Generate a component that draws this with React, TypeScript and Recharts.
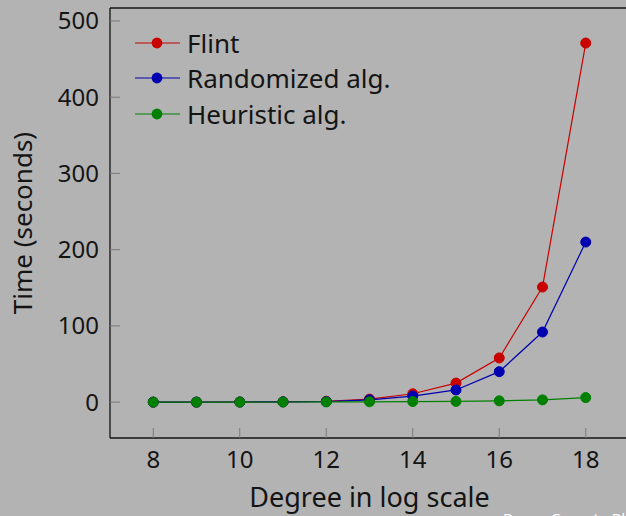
import { LineChart, Line, XAxis, YAxis, Legend } from "recharts";

const degrees = [8, 9, 10, 11, 12, 13, 14, 15, 16, 17, 18];
const flint = [0.05, 0.1, 0.2, 0.5, 1.2, 4, 11, 25, 58, 151, 471];
const randomized = [0.05, 0.1, 0.2, 0.4, 0.8, 3, 8, 16, 40, 92, 210];
const heuristic = [0.02, 0.05, 0.1, 0.2, 0.3, 0.5, 0.8, 1, 1.7, 3, 6];
const seriesNames = ["Flint", "Randomized alg.", "Heuristic alg."];

const xTicks = [8, 10, 12, 14, 16, 18];
const yTicks = [0, 100, 200, 300, 400, 500];

const data = degrees.map((d, i) => ({
  degree: d,
  flint: flint[i],
  randomized: randomized[i],
  heuristic: heuristic[i],
}));

const FONT = "'Noto Sans', sans-serif";
const INK = "#141414";
const TICK = "#7a7a7a";

function LegendBox({ payload }: any) {
  const items = [...(payload || [])].sort(
    (a: any, b: any) => seriesNames.indexOf(a.value) - seriesNames.indexOf(b.value)
  );
  return (
    <div>
      {items.map((p: any) => (
        <div key={p.value} style={{ display: "flex", alignItems: "center", height: 35.5 }}>
          <svg width={52} height={20}>
            <line x1={0} y1={10} x2={45} y2={10} stroke={p.color} strokeWidth={1.2} />
            <circle cx={22} cy={10} r={5.4} fill={p.color} />
          </svg>
          <span style={{ fontSize: 26, color: INK, lineHeight: 1 }}>{p.value}</span>
        </div>
      ))}
    </div>
  );
}

export default function App() {
  const axisLine = { stroke: INK, strokeWidth: 1.3 };
  const tickLine = { stroke: TICK, strokeWidth: 1 };
  return (
    <div
      style={{
        position: "fixed", left: 0, top: 0, width: 626, height: 516,
        overflow: "hidden", background: "#b3b3b3", fontFamily: FONT,
      }}
    >
      <LineChart width={640} height={516} data={data} margin={{ top: 7, right: 10, bottom: 0, left: 0 }}>
        <XAxis
          xAxisId="b" dataKey="degree" type="number" domain={[7, 19]} ticks={xTicks}
          allowDataOverflow height={78} tickSize={-10} tickMargin={23}
          axisLine={axisLine} tickLine={tickLine}
          tick={{ fill: INK, fontSize: 24 }}
          label={(props: any) => {
            const vb = props.viewBox;
            return (
              <text x={vb.x + vb.width / 2} y={507} textAnchor="middle" fontSize={27} fill={INK}>
                Degree in log scale
              </text>
            );
          }}
        />
        <XAxis
          xAxisId="t" orientation="top" dataKey="degree" type="number" domain={[7, 19]} ticks={xTicks}
          allowDataOverflow height={1} tickSize={-10} tick={false}
          axisLine={axisLine} tickLine={tickLine}
        />
        <YAxis
          yAxisId="l" type="number" domain={[-47, 517]} ticks={yTicks} allowDataOverflow
          width={110} tickSize={-10} tickMargin={21}
          axisLine={axisLine} tickLine={tickLine}
          tick={{ fill: INK, fontSize: 24 }}
          label={(props: any) => {
            const vb = props.viewBox;
            const cy = vb.y + vb.height / 2;
            return (
              <text x={22} y={cy} transform={`rotate(-90 22 ${cy})`} textAnchor="middle"
                dominantBaseline="central" fontSize={26} fill={INK}>
                Time (seconds)
              </text>
            );
          }}
        />
        <YAxis
          yAxisId="r" orientation="right" type="number" domain={[-47, 517]} ticks={yTicks} allowDataOverflow
          width={1} tickSize={-10} tick={false}
          axisLine={axisLine} tickLine={tickLine}
        />
        <Legend
          layout="vertical" verticalAlign="middle" align="center"
          wrapperStyle={{ top: 25, left: 135, width: 300 }}
          content={<LegendBox />}
        />
        <Line xAxisId="b" yAxisId="l" dataKey="flint" name="Flint" stroke="#c80000" strokeWidth={1.2}
          dot={{ r: 5, fill: "#c80000", stroke: "#c80000", strokeWidth: 1 }} isAnimationActive={false} />
        <Line xAxisId="b" yAxisId="l" dataKey="randomized" name="Randomized alg." stroke="#0000b0" strokeWidth={1.2}
          dot={{ r: 5, fill: "#0000b0", stroke: "#0000b0", strokeWidth: 1 }} isAnimationActive={false} />
        <Line xAxisId="b" yAxisId="l" dataKey="heuristic" name="Heuristic alg." stroke="#008000" strokeWidth={1.2}
          dot={{ r: 5, fill: "#008000", stroke: "#008000", strokeWidth: 1 }} isAnimationActive={false} />
      </LineChart>
      <div style={{ position: "absolute", left: 503, top: 508, fontSize: 15, color: "#ffffff", whiteSpace: "nowrap" }}>
        Bruno Grenet - Blog
      </div>
    </div>
  );
}
